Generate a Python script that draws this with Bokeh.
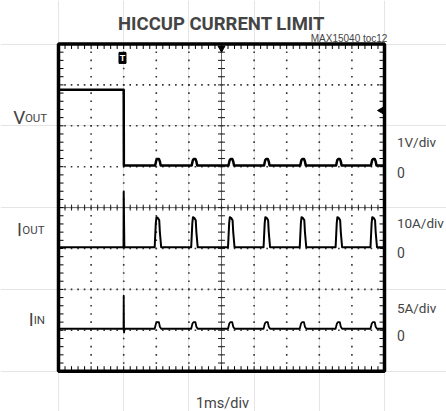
import numpy as np
from bokeh.plotting import figure
from bokeh.models import Range1d, Label
from bokeh.embed import file_html
from bokeh.resources import INLINE

# ---------------- data read from the scope capture ----------------
title_text = "HICCUP CURRENT LIMIT"
note_text = "MAX15040 toc12"
time_label = "1ms/div"
channel_main = ["V", "I", "I"]
channel_sub = ["OUT", "OUT", "IN"]
scale_labels = ["1V/div", "10A/div", "5A/div"]
zero_labels = ["0", "0", "0"]
zero_div = [5, 3, 1]            # screen division holding each channel's zero
units_per_div = [1.0, 10.0, 5.0]

n_xdiv = 10                      # 1 ms/div
n_ydiv = 8
fault_t = 2.0                    # ms, short applied
pulse_t = [3.05, 4.17, 5.30, 6.39, 7.50, 8.60, 9.67]   # hiccup restart pulses (ms)

vout_high = 1.88      # V
vout_low = 0.03
vout_bump = 0.19
iout_base = 0.3       # A
iout_spike = 13.8
iout_pulse = 7.65
iin_base = 0.19       # A
iin_spike = 4.25
iin_undershoot = -0.27
iin_bump = 0.99

# pulse shapes relative to each pulse centre (ms, fraction of pulse height)
iout_shape_dt = [-0.10, -0.065, -0.045, 0.0, 0.04, 0.06, 0.10]
iout_shape_f = [0.0, 0.8, 1.0, 0.97, 0.9, 0.5, 0.0]
vout_shape_dt = [-0.085, -0.05, -0.02, 0.03, 0.06, 0.085]
vout_shape_f = [0.0, 0.8, 1.0, 1.0, 0.6, 0.0]
iin_shape_dt = [-0.10, -0.06, -0.03, 0.03, 0.06, 0.10]
iin_shape_f = [0.0, 0.8, 1.0, 1.0, 0.3, 0.0]


def build(pre_t, pre_v, base, height, dts, fs):
    t = list(pre_t)
    v = list(pre_v)
    for c in pulse_t:
        for d, fr in zip(dts, fs):
            t.append(c + d)
            v.append(base + fr * (height - base))
    t.append(n_xdiv)
    v.append(base)
    return t, v


vout_t, vout_v = build([0, fault_t, fault_t + 0.005], [vout_high, vout_high, vout_low],
                       vout_low, vout_bump, vout_shape_dt, vout_shape_f)
iout_t, iout_v = build([0, fault_t - 0.005, fault_t, fault_t + 0.02, fault_t + 0.05],
                       [iout_base, iout_base, iout_spike, iout_base, iout_base],
                       iout_base, iout_pulse, iout_shape_dt, iout_shape_f)
iin_t, iin_v = build([0, fault_t - 0.005, fault_t, fault_t + 0.01, fault_t + 0.03],
                     [iin_base, iin_base, iin_spike, iin_undershoot, iin_base],
                     iin_base, iin_bump, iin_shape_dt, iin_shape_f)

traces = [(vout_t, vout_v, 2.5), (iout_t, iout_v, 2.0), (iin_t, iin_v, 1.8)]

# ---------------- layout: the whole canvas is the plot frame ----------------
W, H = 446, 411
grat_left, grat_top = 58.0, 43.5      # graticule corner on the canvas (px)
div_w, div_h = 32.6, 40.9             # px per division
x0 = -grat_left / div_w
x1 = (W - grat_left) / div_w
y1 = n_ydiv + grat_top / div_h
y0 = n_ydiv - (H - grat_top) / div_h

p = figure(width=W, height=H, x_range=Range1d(x0, x1), y_range=Range1d(y0, y1),
           output_backend="svg", toolbar_location=None,
           x_axis_location=None, y_axis_location=None,
           min_border=0, min_border_left=0, min_border_right=0,
           min_border_top=0, min_border_bottom=0)
p.outline_line_color = None
p.background_fill_color = "white"
p.border_fill_color = "white"

xt = [round(v, 2) for v in np.arange(0, n_xdiv + 0.001, 0.2)]
yt = [round(v, 2) for v in np.arange(0, n_ydiv + 0.001, 0.2)]

# dotted graticule
gx, gy = [], []
for xm in range(1, n_xdiv):
    for y in yt:
        gx.append(xm); gy.append(y)
for ym in range(1, n_ydiv):
    for x in xt:
        gx.append(x); gy.append(ym)
p.scatter(gx, gy, marker="square", size=1.6, color="#333333", line_width=0)

# centre axes with cross ticks
p.segment([n_xdiv / 2], [0], [n_xdiv / 2], [n_ydiv], line_color="#666666", line_width=1)
p.segment([0], [n_ydiv / 2], [n_xdiv], [n_ydiv / 2], line_color="#666666", line_width=1)
p.scatter(xt, [n_ydiv / 2] * len(xt), marker="dash", angle=np.pi / 2, size=6,
          line_color="#222222", line_width=1)
p.scatter([n_xdiv / 2] * len(yt), yt, marker="dash", size=7, line_color="#222222", line_width=1)

# edge ticks pointing inward
tick_px = 5.0
tx, ty = tick_px / div_w, tick_px / div_h
p.segment(xt, [0] * len(xt), xt, [ty] * len(xt), line_color="black", line_width=1)
p.segment(xt, [n_ydiv] * len(xt), xt, [n_ydiv - ty] * len(xt), line_color="black", line_width=1)
p.segment([0] * len(yt), yt, [tx] * len(yt), yt, line_color="black", line_width=1)
p.segment([n_xdiv] * len(yt), yt, [n_xdiv - tx] * len(yt), yt, line_color="black", line_width=1)

# traces
for (t, v, lw), z, s in zip(traces, zero_div, units_per_div):
    y = [z + val / s for val in v]
    p.line(t, y, line_color="black", line_width=lw, line_join="round")

# frame border
p.quad(left=[0], right=[n_xdiv], bottom=[0], top=[n_ydiv], fill_color=None,
       line_color="black", line_width=3.5)

# scope markers
p.rect([1.963], [7.66], width=7, height=11, width_units="screen", height_units="screen",
       fill_color="black", line_color="black")
p.add_layout(Label(x=1.963, y=7.66, text="T", text_color="white", text_font="Liberation Sans",
                   text_font_style="bold", text_font_size="9px", text_align="center",
                   text_baseline="middle"))
p.scatter([5], [7.9], marker="inverted_triangle", size=7, color="black")
p.scatter([9.91], [6.374], marker="triangle", angle=np.pi / 2, size=7, color="black")

FONT = "Roboto"

# title & note
p.add_layout(Label(x=5.0, y=8.477, text=title_text, text_font=FONT, text_font_style="bold",
                   text_font_size="18.5px", text_align="center", text_baseline="alphabetic"))
p.add_layout(Label(x=10.09, y=8.127, text=note_text, text_font="Liberation Sans",
                   text_font_size="10px", text_align="right", text_baseline="alphabetic"))
p.add_layout(Label(x=5.03, y=-0.79, text=time_label, text_font=FONT,
                   text_font_size="14.5px", text_align="center", text_baseline="alphabetic"))

# channel names on the left
main_x = [-1.39, -1.27, -0.91]
main_size = ["19px", "18px", "18px"]
sub_x = [-1.03, -1.11, -0.76]
name_y = [6.196, 3.457, 1.257]
for m, s, mx, ms, sx, ny in zip(channel_main, channel_sub, main_x, main_size, sub_x, name_y):
    p.add_layout(Label(x=mx, y=ny, text=m, text_font=FONT, text_font_size=ms,
                       text_baseline="alphabetic"))
    p.add_layout(Label(x=sx, y=ny, text=s, text_font=FONT, text_font_size="11.5px",
                       text_baseline="alphabetic"))

# scale & zero labels on the right
scale_y = [5.60, 3.63, 1.55]
zero_y = [4.865, 2.895, 0.873]
for sl, zl, sy, zy in zip(scale_labels, zero_labels, scale_y, zero_y):
    p.add_layout(Label(x=10.38, y=sy, text=sl, text_font=FONT, text_font_size="13.5px",
                       text_baseline="alphabetic"))
    p.add_layout(Label(x=10.38, y=zy, text=zl, text_font=FONT, text_font_size="14px",
                       text_baseline="alphabetic"))

open("out.html", "w").write(file_html(p, INLINE))
